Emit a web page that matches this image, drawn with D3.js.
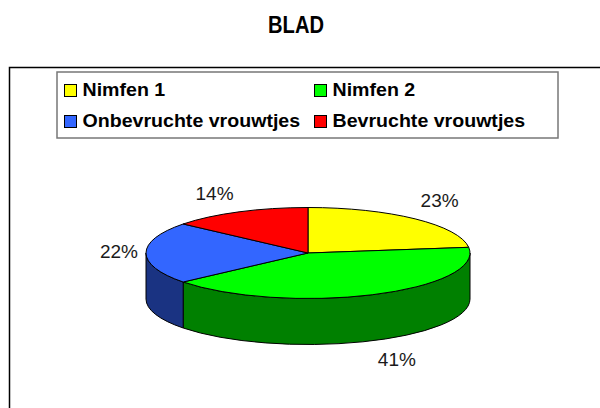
<!DOCTYPE html>
<html>
<head>
<meta charset="utf-8">
<script src="https://cdn.jsdelivr.net/npm/d3@7"></script>
<style>
  html, body { margin: 0; padding: 0; background: #fff; }
  svg { display: block; }
</style>
</head>
<body>
<svg id="chart" width="600" height="408"></svg>
<script>
// ---- data ----
const title = "BLAD";
const categories = ["Nimfen 1", "Nimfen 2", "Onbevruchte vrouwtjes", "Bevruchte vrouwtjes"];
const values = [23, 41, 22, 14];
const topColors = ["#FFFF00", "#00FF00", "#3366FF", "#FF0000"];
const sideColors = ["#808000", "#008000", "#1A3382", "#800000"];

// ---- layout ----
const W = 600, H = 408;
const svg = d3.select("#chart");
const font = "'Liberation Sans', Arial, Helvetica, sans-serif";

// title
svg.append("text")
  .attr("transform", "translate(296,32.7) scale(0.85,1)")
  .attr("text-anchor", "middle")
  .attr("font-family", font)
  .attr("font-weight", "bold")
  .attr("font-size", 23.7)
  .attr("fill", "#000")
  .text(title);

// chart area border (extends past right/bottom edge)
svg.append("rect")
  .attr("x", 9.5).attr("y", 67.5)
  .attr("width", W + 20).attr("height", H)
  .attr("fill", "none").attr("stroke", "#000").attr("stroke-width", 1.5);

// legend
const legend = svg.append("g");
legend.append("rect")
  .attr("x", 57).attr("y", 72)
  .attr("width", 501).attr("height", 66)
  .attr("fill", "#fff").attr("stroke", "#777").attr("stroke-width", 1.5);

const colX = d3.scaleOrdinal().domain([0, 1]).range([64, 314]);
const rowY = d3.scaleOrdinal().domain([0, 1]).range([84, 115]);
categories.forEach((c, i) => {
  const col = i % 2, row = Math.floor(i / 2);
  const x = colX(col), y = rowY(row);
  legend.append("rect")
    .attr("x", x + 0.5).attr("y", y + 0.5)
    .attr("width", 12).attr("height", 12)
    .attr("fill", topColors[i]).attr("stroke", "#000").attr("stroke-width", 1);
  legend.append("text")
    .attr("transform", `translate(${x + 18.5},${y + 12.2}) scale(1.12,1)`)
    .attr("font-family", font)
    .attr("font-weight", "bold")
    .attr("font-size", 17.5)
    .attr("fill", "#000")
    .text(c);
});

// ---- 3D pie ----
const cx = 308, cy = 253, rx = 162, ry = 45.5, depth = 46;
const pie = d3.pie().sort(null).value(d => d);
const arcs = pie(values);
const total = d3.sum(values);
const pct = d3.format(".0%");

const P = (a, dz = 0) => [cx + rx * Math.sin(a), cy - ry * Math.cos(a) + dz];

const g = svg.append("g");

// side walls (front half: angle between PI/2 and 3PI/2)
arcs.forEach((d, i) => {
  const s = Math.max(d.startAngle, Math.PI / 2);
  const e = Math.min(d.endAngle, 3 * Math.PI / 2);
  if (e <= s) return;
  const p0 = P(s), p1 = P(e), p1b = P(e, depth), p0b = P(s, depth);
  const large = (e - s) > Math.PI ? 1 : 0;
  const path = `M${p0}A${rx},${ry} 0 ${large} 1 ${p1}L${p1b}A${rx},${ry} 0 ${large} 0 ${p0b}Z`;
  g.append("path")
    .attr("d", path)
    .attr("fill", sideColors[i])
    .attr("stroke", "#000").attr("stroke-width", 1).attr("stroke-linejoin", "round");
});

// top faces
arcs.forEach((d, i) => {
  const p0 = P(d.startAngle), p1 = P(d.endAngle);
  const large = (d.endAngle - d.startAngle) > Math.PI ? 1 : 0;
  const path = `M${cx},${cy}L${p0}A${rx},${ry} 0 ${large} 1 ${p1}Z`;
  g.append("path")
    .attr("d", path)
    .attr("fill", topColors[i])
    .attr("stroke", "#000").attr("stroke-width", 1).attr("stroke-linejoin", "round");
});

// percentage labels
const capH = 13.6;
arcs.forEach((d, i) => {
  const a = (d.startAngle + d.endAngle) / 2;
  const sn = Math.sin(a), cs = Math.cos(a);
  const front = cs < -0.05;
  const p = P(a, front ? depth : 0);
  const dx = Math.abs(sn) > 0.95 ? Math.sign(sn) * 27 : Math.sign(sn) * 24.5;
  const dy = Math.abs(cs) > 0.3 ? -Math.sign(cs) * 18.5 : -cs * 18.5 - 2;
  const lx = p[0] + dx, ly = p[1] + dy + capH / 2;
  g.append("text")
    .attr("x", lx).attr("y", ly)
    .attr("text-anchor", "middle")
    .attr("font-family", font)
    .attr("font-size", 19)
    .attr("fill", "#1a1a1a")
    .text(pct(d.data / total));
});
</script>
</body>
</html>
